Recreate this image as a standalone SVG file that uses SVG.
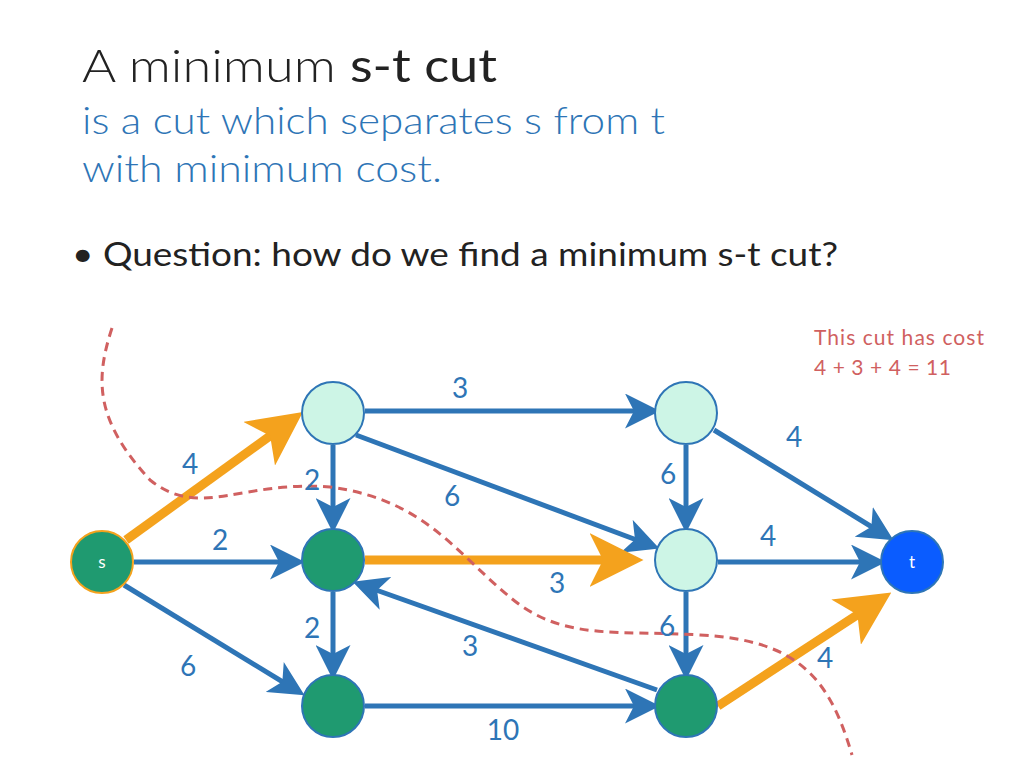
<svg xmlns="http://www.w3.org/2000/svg" width="1024" height="768" viewBox="0 0 1024 768">
<style>
text{font-family:Lato,"Open Sans",sans-serif}
.e{stroke:#2e75b6;stroke-width:5;fill:none;marker-end:url(#ab)}
.o{stroke:#f4a21d;stroke-width:9;fill:none;marker-end:url(#ao)}
.lbl{font-size:28px;fill:#2e75b6;text-anchor:middle}
.lt{fill:#cdf5e6;stroke:#2e75b6;stroke-width:2}
.dk{fill:#1f9a70;stroke:#2e75b6;stroke-width:2}
</style>
<defs>
<marker id="ab" markerWidth="7" markerHeight="7" refX="5" refY="3.5" orient="auto" markerUnits="strokeWidth"><path d="M0,0L7,3.5L0,7L1.8,3.5Z" fill="#2e75b6"/></marker>
<marker id="ao" markerWidth="6" markerHeight="6" refX="4.5" refY="3" orient="auto" markerUnits="strokeWidth"><path d="M0,0L6,3L0,6L1.5,3Z" fill="#f4a21d"/></marker>
</defs>
<rect width="1024" height="768" fill="#fff"/>
<text x="82" y="82" font-size="46" fill="#222" font-weight="300" textLength="415" lengthAdjust="spacingAndGlyphs">A minimum <tspan font-weight="400">s-t cut</tspan></text>
<text x="82" y="134" font-size="38" fill="#2e75b6" font-weight="300" textLength="583" lengthAdjust="spacingAndGlyphs">is a cut which separates s from t</text>
<text x="82" y="182" font-size="38" fill="#2e75b6" font-weight="300" textLength="360" lengthAdjust="spacingAndGlyphs">with minimum cost.</text>
<text x="72" y="266" font-size="32" fill="#222" textLength="766" lengthAdjust="spacingAndGlyphs">• Question: how do we find a minimum s-t cut?</text>
<text x="814" y="345" font-size="21" fill="#d06060" textLength="170">This cut has cost</text>
<text x="814" y="375" font-size="21" fill="#d06060" textLength="137">4 + 3 + 4 = 11</text>
<g id="connectors">
<path class="e" d="M365,411H650"/>
<path class="e" d="M714,430L885,535"/>
<path class="e" d="M333,445V523"/>
<path class="e" d="M356,435L650,545"/>
<path class="e" d="M686,445V523"/>
<path class="e" d="M134,562H295"/>
<path class="e" d="M124,585L296,690"/>
<path class="e" d="M718,562H876"/>
<path class="e" d="M333,592V670"/>
<path class="e" d="M657,690L362,585"/>
<path class="e" d="M686,592V670"/>
<path class="e" d="M365,706H650"/>
<path class="o" d="M126,540L292,420"/>
<path class="o" d="M365,560H630"/>
<path class="o" d="M718,706L880,600"/>
</g>
<path d="M112,328C95,380 95,420 150,480C200,520 240,480 330,487C430,500 460,560 520,605C570,640 620,630 700,635C800,640 830,680 852,755" fill="none" stroke="#d06060" stroke-width="3" stroke-dasharray="9,6"/>
<g class="lbl">
<text class="lbl" x="460" y="398">3</text>
<text class="lbl" x="794" y="447">4</text>
<text class="lbl" x="312" y="490">2</text>
<text class="lbl" x="452" y="506">6</text>
<text class="lbl" x="668" y="484">6</text>
<text class="lbl" x="190" y="474">4</text>
<text class="lbl" x="220" y="550">2</text>
<text class="lbl" x="188" y="676">6</text>
<text class="lbl" x="557" y="593">3</text>
<text class="lbl" x="768" y="546">4</text>
<text class="lbl" x="312" y="638">2</text>
<text class="lbl" x="470" y="656">3</text>
<text class="lbl" x="667" y="636">6</text>
<text class="lbl" x="503" y="740">10</text>
<text class="lbl" x="825" y="668">4</text>
</g>
<g id="s"><circle cx="102" cy="562" r="31" fill="#1f9a70" stroke="#f4a21d" stroke-width="2"/><text x="102" y="568" font-size="17" fill="#fff" text-anchor="middle">s</text></g>
<g id="A"><circle class="lt" cx="333" cy="413" r="31"/></g>
<g id="B"><circle class="lt" cx="686" cy="413" r="31"/></g>
<g id="C"><circle class="dk" cx="333" cy="560" r="31"/></g>
<g id="D"><circle class="lt" cx="686" cy="560" r="31"/></g>
<g id="E"><circle class="dk" cx="333" cy="706" r="31"/></g>
<g id="F"><circle class="dk" cx="686" cy="706" r="31"/></g>
<g id="t"><circle cx="912" cy="562" r="31" fill="#0a5cff" stroke="#2e75b6" stroke-width="2"/><text x="912" y="568" font-size="17" fill="#fff" text-anchor="middle">t</text></g>
</svg>
